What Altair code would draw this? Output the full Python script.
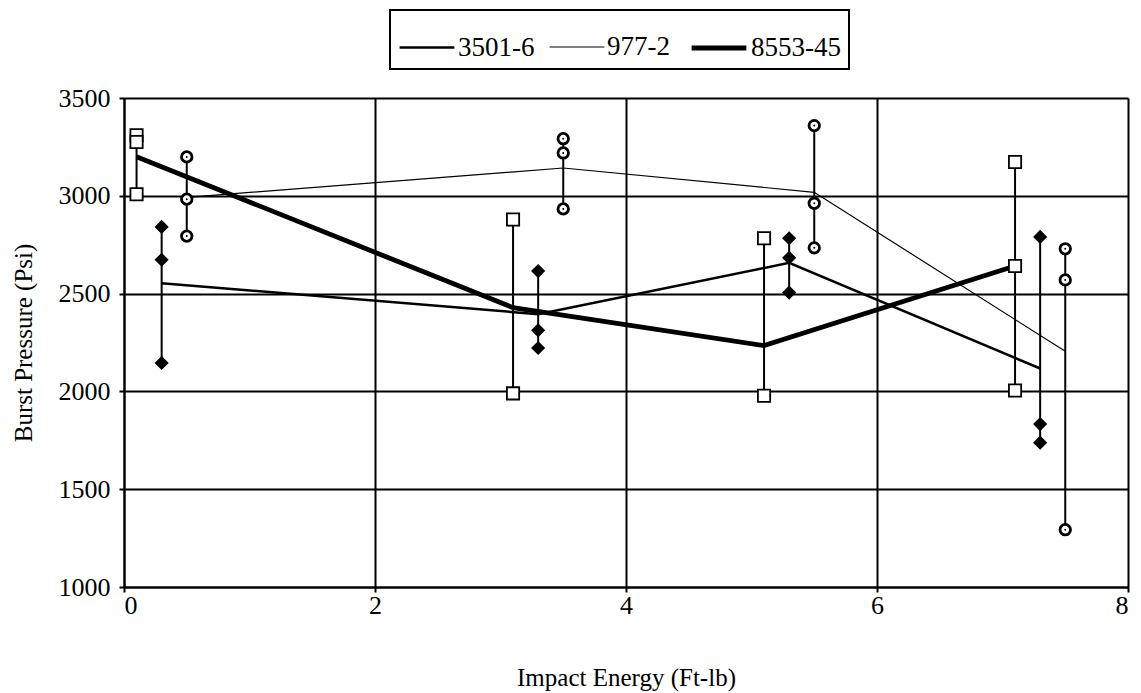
import altair as alt
import pandas as pd

SERIES = ["3501-6", "977-2", "8553-45"]
LINE_WIDTHS = [2.5, 1.2, 4.8]

# 8553-45 : open squares
sq_x = [0.1, 3.1, 5.1, 7.1]
sq_vals = [[3310, 3275, 3008], [2879, 1990], [2783, 1978], [3173, 2641, 2005]]
sq_mean = [3200, 2428, 2234, 2641]

# 3501-6 : filled diamonds
dm_x = [0.3, 3.3, 5.3, 7.3]
dm_vals = [[2841, 2673, 2145], [2615, 2312, 2222], [2783, 2683, 2505], [2790, 1833, 1738]]
dm_mean = [2553, 2395, 2657, 2117]

# 977-2 : ringed circles
ci_x = [0.5, 3.5, 5.5, 7.5]
ci_vals = [[3199, 2983, 2794], [3292, 3219, 2933], [3359, 2962, 2734], [2729, 2570, 1293]]
ci_mean = [2992, 3142, 3018, 2205]

X_TICKS = [0, 2, 4, 6, 8]
Y_TICKS = [1000, 1500, 2000, 2500, 3000, 3500]

pts_rows, mean_rows = [], []
for name, xs, vals, means in [("8553-45", sq_x, sq_vals, sq_mean),
                              ("3501-6", dm_x, dm_vals, dm_mean),
                              ("977-2", ci_x, ci_vals, ci_mean)]:
    for i, (xv, vs, mv) in enumerate(zip(xs, vals, means)):
        for v in vs:
            pts_rows.append({"energy": xv, "psi": v, "series": name, "group": f"{name}_{i}"})
        mean_rows.append({"energy": xv, "psi": mv, "series": name})
pts = pd.DataFrame(pts_rows)
means = pd.DataFrame(mean_rows)

FONT = "Liberation Serif, Times New Roman, serif"
xenc = alt.X("energy:Q", title="Impact Energy (Ft-lb)",
             scale=alt.Scale(domain=[0, 8], nice=False),
             axis=alt.Axis(values=X_TICKS, titlePadding=47, labelPadding=0, format="d",
                           labelFont=FONT, titleFont=FONT))
yscale = alt.Scale(domain=[1000, 3500], nice=False, zero=False)
yaxis = alt.Axis(values=Y_TICKS, titlePadding=22, labelPadding=9, format="d",
                 labelFont=FONT, titleFont=FONT)

rules = alt.Chart(pts).mark_rule(color="black", strokeWidth=2).encode(
    x=xenc,
    y=alt.Y("min(psi):Q", title="Burst Pressure (Psi)", scale=yscale, axis=yaxis),
    y2="max(psi):Q",
    detail="group:N",
)

lines = alt.Chart(means).mark_line(color="black").encode(
    x=xenc,
    y=alt.Y("psi:Q", title="Burst Pressure (Psi)", scale=yscale, axis=yaxis),
    detail="series:N",
    strokeWidth=alt.StrokeWidth(
        "series:N", sort=SERIES,
        scale=alt.Scale(type="ordinal", domain=SERIES, range=LINE_WIDTHS),
        legend=alt.Legend(title=None, orient="none", legendX=266, legendY=-88,
                          direction="horizontal", symbolType="stroke",
                          symbolSize=3000, symbolStrokeColor="black",
                          labelFont=FONT, labelFontSize=27, labelColor="black",
                          strokeColor="black", padding=8, columnPadding=12,
                          labelOffset=2),
    ),
)

ybase = alt.Y("psi:Q", title="Burst Pressure (Psi)", scale=yscale, axis=yaxis)

squares = alt.Chart(pts).transform_filter(alt.datum.series == "8553-45").mark_point(
    shape="square", filled=True, fill="white", stroke="black", strokeWidth=1.8,
    size=150, opacity=1).encode(x=xenc, y=ybase)

diamonds = alt.Chart(pts).transform_filter(alt.datum.series == "3501-6").mark_point(
    shape="diamond", filled=True, color="black", size=200, opacity=1).encode(x=xenc, y=ybase)

circles = alt.Chart(pts).transform_filter(alt.datum.series == "977-2").mark_point(
    shape="circle", filled=True, fill="white", stroke="black", strokeWidth=2.8,
    size=110, opacity=1).encode(x=xenc, y=ybase)

dots = alt.Chart(pts).transform_filter(alt.datum.series == "977-2").mark_point(
    shape="circle", filled=True, color="black", size=4, opacity=1).encode(x=xenc, y=ybase)

chart = alt.layer(rules, lines, squares, diamonds, circles, dots).properties(
    width=1004, height=489,
    autosize=alt.AutoSizeParams(type="none"),
    padding={"left": 124, "top": 98, "right": 13, "bottom": 106},
    background="white",
).configure_view(stroke=None).configure_axis(
    grid=True, gridColor="black", gridWidth=2, gridOpacity=1,
    domainColor="black", domainWidth=2, tickColor="black", tickWidth=2, tickSize=5,
    labelFont=FONT, labelFontSize=26, labelColor="black",
    titleFont=FONT, titleFontSize=25, titleFontWeight="normal", titleColor="black",
).configure_legend(strokeWidth=2)

chart.save("out.html", embed_options={"renderer": "svg", "actions": False})
